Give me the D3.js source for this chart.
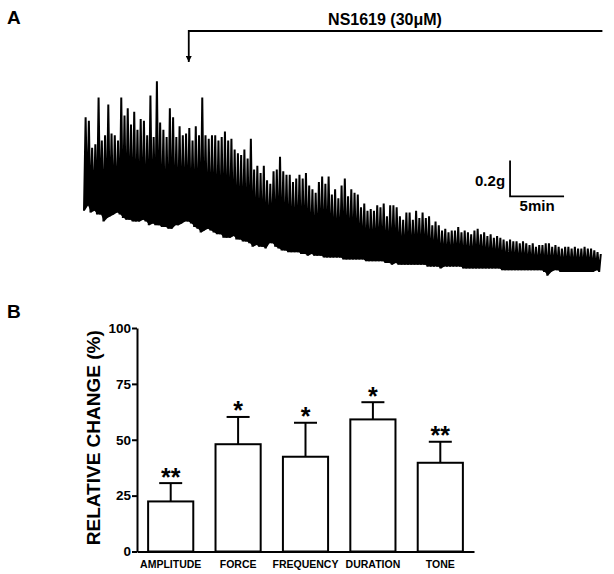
<!DOCTYPE html>
<html><head><meta charset="utf-8">
<script src="https://cdn.jsdelivr.net/npm/d3@7"></script>
<style>
body{margin:0;background:#fff}
svg{display:block}
text{font-family:"Liberation Sans",Arial,Helvetica,sans-serif;font-weight:bold;fill:#000}
</style>
</head><body>
<svg id="chart" width="614" height="574"></svg>
<script>
// ---------- Panel B data ----------
const categories = ["AMPLITUDE", "FORCE", "FREQUENCY", "DURATION", "TONE"];
const meanValues = [22.4, 48.0, 42.4, 59.1, 39.7];
const semValues = [8.2, 12.2, 15.2, 7.7, 9.4];
const significance = ["**", "*", "*", "*", "**"];
const yTickValues = [0, 25, 50, 75, 100];

// ---------- Panel A data (isometric tension trace, g) ----------
const sampleInterval = 0.3; // min per contraction cycle
const drugOnset = 9.7;      // min, NS1619 application
const peakTension = [
 0.96,0.94,0.79,0.81,1.07,0.83,0.86,1.03,0.87,0.86,
 0.83,1.07,0.97,1.01,0.92,0.99,0.89,0.95,0.94,0.86,
 1.08,0.85,1.16,0.93,0.89,0.85,1.01,0.96,0.85,0.91,
 0.86,0.87,0.90,0.83,0.91,0.86,1.07,0.86,0.84,0.86,
 0.86,0.83,0.85,0.88,0.83,0.84,0.78,0.76,0.75,0.78,
 0.73,0.84,0.67,0.69,0.65,0.69,0.61,0.59,0.66,0.67,
 0.74,0.66,0.64,0.64,0.60,0.62,0.64,0.62,0.65,0.58,
 0.56,0.54,0.60,0.63,0.59,0.63,0.53,0.56,0.51,0.58,
 0.62,0.52,0.56,0.54,0.53,0.46,0.48,0.44,0.45,0.44,
 0.47,0.46,0.48,0.41,0.47,0.47,0.46,0.41,0.39,0.43,
 0.43,0.39,0.44,0.40,0.43,0.40,0.41,0.36,0.38,0.36,
 0.33,0.34,0.32,0.33,0.33,0.35,0.32,0.33,0.32,0.31,
 0.33,0.34,0.31,0.32,0.30,0.31,0.29,0.30,0.29,0.28,
 0.27,0.28,0.27,0.27,0.26,0.27,0.26,0.25,0.26,0.24,
 0.25,0.25,0.26,0.26,0.24,0.25,0.24,0.23,0.24,0.24,
 0.23,0.24,0.23,0.23,0.24,0.23,0.23,0.22,0.21,0.20];
const troughTension = [
 0.44,0.47,0.43,0.44,0.42,0.42,0.38,0.40,0.41,0.42,
 0.43,0.42,0.40,0.39,0.39,0.38,0.38,0.38,0.39,0.38,
 0.36,0.37,0.36,0.36,0.35,0.35,0.34,0.34,0.36,0.36,
 0.37,0.38,0.38,0.37,0.35,0.34,0.32,0.33,0.34,0.33,
 0.32,0.31,0.31,0.29,0.29,0.29,0.30,0.28,0.28,0.27,
 0.27,0.26,0.24,0.25,0.24,0.24,0.23,0.26,0.26,0.24,
 0.23,0.22,0.22,0.21,0.21,0.21,0.21,0.20,0.20,0.19,
 0.20,0.19,0.19,0.19,0.18,0.18,0.18,0.18,0.18,0.18,
 0.17,0.17,0.17,0.17,0.17,0.17,0.17,0.16,0.16,0.16,
 0.16,0.16,0.16,0.15,0.15,0.14,0.15,0.14,0.14,0.14,
 0.14,0.14,0.14,0.14,0.14,0.14,0.13,0.13,0.13,0.13,
 0.12,0.13,0.13,0.13,0.13,0.13,0.13,0.12,0.12,0.12,
 0.12,0.12,0.12,0.12,0.12,0.12,0.12,0.12,0.12,0.11,
 0.11,0.11,0.11,0.11,0.11,0.11,0.11,0.11,0.11,0.11,
 0.11,0.11,0.10,0.08,0.10,0.11,0.11,0.10,0.10,0.10,
 0.10,0.10,0.10,0.10,0.10,0.10,0.10,0.10,0.11,0.10];

const svg = d3.select("#chart");

// ---------- Panel A ----------
const xT = d3.scaleLinear().domain([0, 48]).range([84, 602.4]);
const yT = d3.scaleLinear().domain([0, 1]).range([290, 110]);

const tracePts = [];
peakTension.forEach((p, i) => {
  tracePts.push([i * sampleInterval, troughTension[i]]);
  tracePts.push([i * sampleInterval + sampleInterval / 2, p]);
});
// solid lower body of the trace
svg.append("path")
  .datum(peakTension.map((p, i) => ({t: i * sampleInterval + sampleInterval / 4, lo: troughTension[i], hi: (troughTension[i] + p) / 2})))
  .attr("d", d3.area().x(d => xT(d.t)).y0(d => yT(d.lo)).y1(d => yT(d.hi)))
  .attr("fill", "#000");
svg.append("path")
  .datum(tracePts)
  .attr("d", d3.line().x(d => xT(d[0])).y(d => yT(d[1])))
  .attr("fill", "none").attr("stroke", "#000").attr("stroke-width", 2);

// drug annotation
const annY = 31;
svg.append("defs").append("marker")
  .attr("id", "arr").attr("viewBox", "0 0 10 10").attr("refX", 10).attr("refY", 5)
  .attr("markerWidth", 6).attr("markerHeight", 6).attr("markerUnits", "userSpaceOnUse")
  .attr("orient", "auto")
  .append("path").attr("d", "M0,0L10,5L0,10Z").attr("fill", "#000");
svg.append("path")
  .attr("d", `M${xT(48)},${annY}H${xT(drugOnset)}V62`)
  .attr("fill", "none").attr("stroke", "#000").attr("stroke-width", 1.8)
  .attr("marker-end", "url(#arr)");
svg.append("text").attr("x", 385).attr("y", 25).attr("text-anchor", "middle")
  .attr("font-size", 16).text("NS1619 (30\u03BCM)");

// scale bar
const sbT = 39.45, sbG = 0.52;
svg.append("path")
  .attr("d", `M${xT(sbT)},${yT(sbG + 0.2)}V${yT(sbG)}H${xT(sbT + 5)}`)
  .attr("fill", "none").attr("stroke", "#000").attr("stroke-width", 1.8);
svg.append("text").attr("x", xT(sbT) - 5).attr("y", 186).attr("text-anchor", "end")
  .attr("font-size", 15).text("0.2g");
svg.append("text").attr("x", xT(sbT + 2.5)).attr("y", 211).attr("text-anchor", "middle")
  .attr("font-size", 15).text("5min");

svg.append("text").attr("x", 7).attr("y", 24).attr("font-size", 19).text("A");
svg.append("text").attr("x", 7).attr("y", 318).attr("font-size", 19).text("B");

// ---------- Panel B ----------
const x = d3.scaleBand().domain(categories).range([137, 474]).paddingInner(0.33).paddingOuter(0.165);
const y = d3.scaleLinear().domain([0, 100]).range([551.5, 328]);

const gb = svg.append("g");
gb.selectAll("rect.bar").data(categories).join("rect")
  .attr("class", "bar")
  .attr("x", d => x(d)).attr("width", x.bandwidth())
  .attr("y", (d, i) => y(meanValues[i])).attr("height", (d, i) => y(0) - y(meanValues[i]))
  .attr("fill", "#fff").attr("stroke", "#000").attr("stroke-width", 2);

const capW = 23;
categories.forEach((c, i) => {
  const cx = x(c) + x.bandwidth() / 2;
  const top = y(meanValues[i] + semValues[i]);
  gb.append("line").attr("x1", cx).attr("x2", cx).attr("y1", y(meanValues[i])).attr("y2", top)
    .attr("stroke", "#000").attr("stroke-width", 2);
  gb.append("line").attr("x1", cx - capW / 2).attr("x2", cx + capW / 2).attr("y1", top).attr("y2", top)
    .attr("stroke", "#000").attr("stroke-width", 2);
  gb.append("text").attr("x", cx).attr("y", top + 2.5).attr("text-anchor", "middle")
    .attr("font-size", 25).text(significance[i]);
});

const yAxis = svg.append("g").attr("transform", "translate(137,0)")
  .call(d3.axisLeft(y).tickValues(yTickValues).tickSize(5).tickSizeOuter(0).tickPadding(1));
yAxis.select(".domain").attr("stroke-width", 2);
yAxis.selectAll(".tick line").attr("stroke-width", 2);
yAxis.selectAll(".tick text").attr("font-size", 13.5).attr("font-family", null);

const xAxis = svg.append("g").attr("transform", `translate(0,${y(0)})`)
  .call(d3.axisBottom(x).tickSize(0).tickSizeOuter(0).tickPadding(9));
xAxis.select(".domain").attr("stroke-width", 2);
xAxis.selectAll(".tick text").attr("font-size", 10.5).attr("font-family", null);

svg.append("text")
  .attr("transform", `translate(100,${(y(100) + y(0)) / 2 - 2}) rotate(-90)`)
  .attr("text-anchor", "middle").attr("font-size", 19)
  .text("RELATIVE CHANGE (%)");
</script>
</body></html>
